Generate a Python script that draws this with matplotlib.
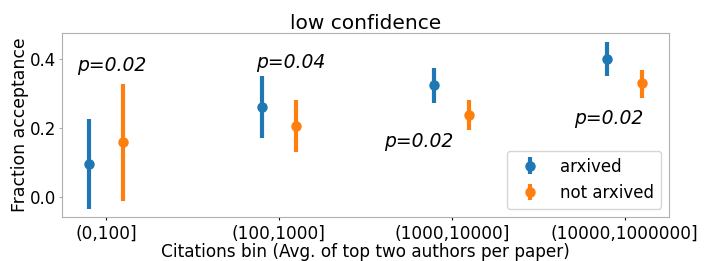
import matplotlib.pyplot as plt
import numpy as np

categories = ["(0,100]", "(100,1000]", "(1000,10000]", "(10000,1000000]"]
series = ["arxived", "not arxived"]
colors = ["#1f77b4", "#ff7f0e"]

arxived_mean = [0.095, 0.261, 0.324, 0.400]
arxived_low = [-0.034, 0.172, 0.273, 0.351]
arxived_high = [0.225, 0.351, 0.374, 0.448]

not_arxived_mean = [0.159, 0.206, 0.237, 0.329]
not_arxived_low = [-0.011, 0.131, 0.194, 0.287]
not_arxived_high = [0.327, 0.281, 0.281, 0.367]

p_labels = ["p=0.02", "p=0.04", "p=0.02", "p=0.02"]
p_x = [-0.17, -0.13, -0.39, -0.29]
p_y = [0.38, 0.39, 0.16, 0.228]

fig = plt.figure(figsize=(7.08, 2.61), dpi=100)
ax = fig.add_axes([0.0876, 0.1686, 0.858, 0.705])

x = np.arange(len(categories))
dodge = 0.1
data = [
    (arxived_mean, arxived_low, arxived_high),
    (not_arxived_mean, not_arxived_low, not_arxived_high),
]
for k, (mean, low, high) in enumerate(data):
    mean = np.array(mean)
    err = [mean - np.array(low), np.array(high) - mean]
    offset = -dodge if k == 0 else dodge
    ax.errorbar(
        x + offset,
        mean,
        yerr=err,
        fmt="o",
        color=colors[k],
        ecolor=colors[k],
        elinewidth=3,
        markersize=6.5,
        capsize=0,
        label=series[k],
    )

for i, lab in enumerate(p_labels):
    ax.text(
        x[i] + p_x[i], p_y[i], lab, fontsize=13.5, style="italic",
        ha="left", va="center",
    )

ax.set_xticks(x)
ax.set_xticklabels(categories, fontsize=12.2)
ax.set_yticks([0.0, 0.2, 0.4])
ax.tick_params(axis="y", labelsize=12, length=2, pad=2, color="#aaaaaa")
ax.tick_params(axis="x", length=2.5, pad=3)
ax.set_xlim(-0.255, 3.26)
ax.set_ylim(-0.057, 0.474)
for s in ax.spines.values():
    s.set_color("#b0b0b0")

ax.set_xlabel("Citations bin (Avg. of top two authors per paper)", fontsize=12.2, labelpad=0)
ax.set_ylabel("Fraction acceptance", fontsize=12.4, labelpad=1)
ax.set_title("low confidence", fontsize=14.5, pad=3)
ax.legend(loc="lower right", fontsize=12, handletextpad=0.8, borderaxespad=0.5)

fig.savefig("out.png", dpi=100)
